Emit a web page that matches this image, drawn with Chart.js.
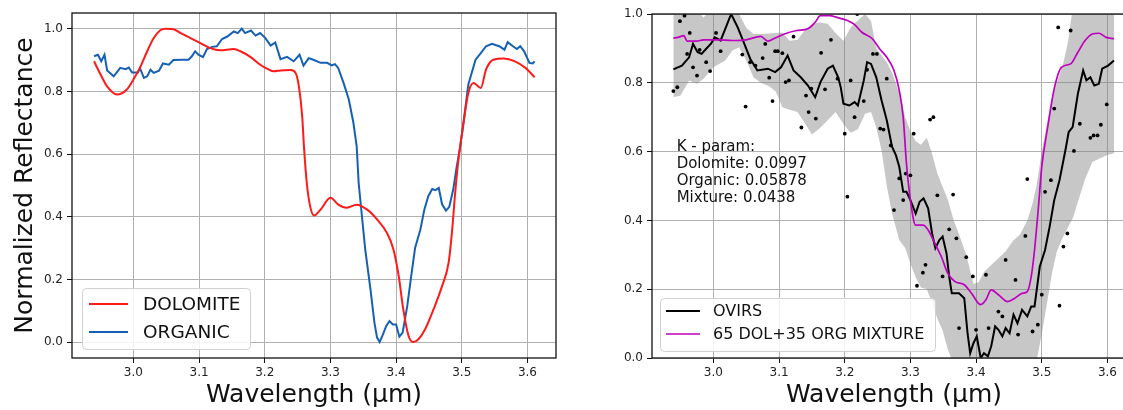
<!doctype html>
<html>
<head>
<meta charset="utf-8">
<title>Reflectance spectra</title>
<script src="https://cdn.jsdelivr.net/npm/chart.js@4.4.1/dist/chart.umd.min.js"></script>
<style>
  html, body { margin: 0; padding: 0; background: #fff; overflow: hidden; }
  #wrap { position: relative; width: 1123px; height: 410px; overflow: hidden; }
  canvas { position: absolute; top: 0; }
</style>
</head>
<body>
<div id="wrap">
  <canvas id="left" width="570" height="410" style="left:0"></canvas>
  <canvas id="right" width="590" height="410" style="left:560px"></canvas>
</div>
<script>
// ---- data ----
var xTicks = [3.0, 3.1, 3.2, 3.3, 3.4, 3.5, 3.6];
var leftYTicks = [0.0, 0.2, 0.4, 0.6, 0.8, 1.0];
var rightYTicks = [0.0, 0.2, 0.4, 0.6, 0.8, 1.0];

var dolomiteX = [2.940, 2.950, 2.960, 2.975, 2.990, 3.000, 3.011, 3.021, 3.031, 3.041, 3.049, 3.061, 3.072, 3.087, 3.102, 3.117, 3.132, 3.153, 3.163, 3.178, 3.193, 3.204, 3.214, 3.224, 3.239, 3.247, 3.252, 3.257, 3.260, 3.264, 3.269, 3.275, 3.285, 3.300, 3.312, 3.325, 3.340, 3.356, 3.371, 3.386, 3.396, 3.404, 3.411, 3.419, 3.426, 3.434, 3.444, 3.457, 3.470, 3.480, 3.485, 3.490, 3.495, 3.502, 3.510, 3.518, 3.529, 3.537, 3.548, 3.564, 3.581, 3.597, 3.611];
var dolomiteY = [0.896, 0.854, 0.816, 0.790, 0.806, 0.838, 0.880, 0.928, 0.970, 0.995, 1.0, 0.998, 0.986, 0.970, 0.954, 0.938, 0.931, 0.935, 0.928, 0.910, 0.885, 0.872, 0.864, 0.867, 0.868, 0.859, 0.816, 0.721, 0.615, 0.508, 0.435, 0.404, 0.423, 0.461, 0.439, 0.429, 0.439, 0.423, 0.392, 0.349, 0.296, 0.211, 0.105, 0.020, 0.001, 0.010, 0.041, 0.105, 0.179, 0.254, 0.349, 0.477, 0.583, 0.689, 0.795, 0.827, 0.811, 0.870, 0.901, 0.905, 0.896, 0.875, 0.845];

var organicX = [2.940, 2.946, 2.951, 2.956, 2.960, 2.970, 2.980, 2.988, 2.993, 2.998, 3.007, 3.010, 3.016, 3.021, 3.026, 3.031, 3.039, 3.045, 3.054, 3.061, 3.074, 3.084, 3.089, 3.094, 3.099, 3.106, 3.112, 3.120, 3.127, 3.135, 3.143, 3.153, 3.159, 3.165, 3.170, 3.179, 3.186, 3.193, 3.201, 3.209, 3.216, 3.224, 3.234, 3.244, 3.253, 3.259, 3.267, 3.274, 3.285, 3.295, 3.302, 3.307, 3.312, 3.320, 3.328, 3.335, 3.340, 3.343, 3.348, 3.353, 3.361, 3.367, 3.371, 3.375, 3.380, 3.385, 3.390, 3.395, 3.400, 3.405, 3.410, 3.417, 3.423, 3.429, 3.437, 3.443, 3.449, 3.455, 3.460, 3.465, 3.470, 3.476, 3.481, 3.487, 3.492, 3.497, 3.502, 3.510, 3.521, 3.529, 3.537, 3.546, 3.557, 3.565, 3.570, 3.578, 3.584, 3.589, 3.595, 3.603, 3.608, 3.611];
var organicY = [0.912, 0.917, 0.896, 0.917, 0.867, 0.848, 0.875, 0.871, 0.876, 0.860, 0.860, 0.874, 0.843, 0.848, 0.869, 0.859, 0.866, 0.889, 0.885, 0.900, 0.901, 0.901, 0.912, 0.928, 0.917, 0.909, 0.935, 0.942, 0.944, 0.967, 0.975, 0.991, 0.986, 1.0, 0.986, 0.994, 0.978, 0.986, 0.970, 0.946, 0.956, 0.903, 0.910, 0.896, 0.917, 0.882, 0.906, 0.901, 0.891, 0.891, 0.883, 0.887, 0.874, 0.827, 0.774, 0.700, 0.625, 0.508, 0.402, 0.296, 0.169, 0.063, 0.015, 0.001, 0.025, 0.052, 0.068, 0.057, 0.057, 0.018, 0.031, 0.116, 0.211, 0.302, 0.360, 0.423, 0.466, 0.489, 0.485, 0.492, 0.440, 0.420, 0.432, 0.487, 0.556, 0.615, 0.690, 0.822, 0.901, 0.922, 0.944, 0.952, 0.944, 0.933, 0.957, 0.944, 0.935, 0.944, 0.928, 0.891, 0.889, 0.896];

var ovirsX = [2.939, 2.952, 2.963, 2.969, 2.976, 2.982, 2.989, 2.996, 3.002, 3.011, 3.019, 3.027, 3.037, 3.045, 3.056, 3.067, 3.083, 3.094, 3.103, 3.113, 3.122, 3.133, 3.144, 3.155, 3.163, 3.174, 3.182, 3.190, 3.194, 3.198, 3.207, 3.215, 3.220, 3.229, 3.234, 3.240, 3.248, 3.256, 3.264, 3.272, 3.278, 3.283, 3.289, 3.294, 3.300, 3.308, 3.314, 3.320, 3.327, 3.333, 3.338, 3.344, 3.349, 3.355, 3.359, 3.363, 3.367, 3.374, 3.382, 3.387, 3.391, 3.396, 3.401, 3.407, 3.412, 3.418, 3.423, 3.429, 3.434, 3.440, 3.445, 3.451, 3.457, 3.463, 3.470, 3.478, 3.484, 3.489, 3.497, 3.505, 3.512, 3.519, 3.527, 3.536, 3.541, 3.547, 3.555, 3.563, 3.568, 3.574, 3.580, 3.587, 3.592, 3.601, 3.610];
var ovirsY = [0.839, 0.850, 0.874, 0.913, 0.889, 0.884, 0.899, 0.913, 0.932, 0.923, 0.961, 1.0, 0.961, 0.923, 0.870, 0.836, 0.841, 0.831, 0.845, 0.879, 0.836, 0.816, 0.792, 0.758, 0.802, 0.841, 0.850, 0.816, 0.786, 0.739, 0.734, 0.744, 0.734, 0.807, 0.860, 0.855, 0.816, 0.749, 0.691, 0.614, 0.589, 0.556, 0.483, 0.483, 0.459, 0.420, 0.454, 0.464, 0.435, 0.362, 0.319, 0.343, 0.353, 0.304, 0.237, 0.188, 0.188, 0.188, 0.174, 0.072, 0.014, 0.043, 0.063, 0.0, 0.014, 0.005, 0.034, 0.092, 0.082, 0.063, 0.087, 0.072, 0.126, 0.101, 0.140, 0.121, 0.150, 0.150, 0.266, 0.314, 0.382, 0.459, 0.517, 0.604, 0.657, 0.671, 0.768, 0.836, 0.807, 0.816, 0.792, 0.797, 0.841, 0.850, 0.865];

var mixX = [2.939, 2.946, 2.955, 2.960, 2.974, 2.985, 3.007, 3.029, 3.050, 3.072, 3.083, 3.094, 3.108, 3.127, 3.144, 3.155, 3.163, 3.177, 3.188, 3.204, 3.215, 3.226, 3.242, 3.253, 3.264, 3.275, 3.283, 3.289, 3.294, 3.300, 3.308, 3.319, 3.327, 3.336, 3.347, 3.357, 3.368, 3.382, 3.393, 3.407, 3.415, 3.423, 3.434, 3.448, 3.459, 3.470, 3.478, 3.484, 3.489, 3.495, 3.500, 3.509, 3.519, 3.530, 3.544, 3.555, 3.566, 3.577, 3.587, 3.598, 3.610];
var mixY = [0.930, 0.932, 0.937, 0.921, 0.921, 0.925, 0.925, 0.923, 0.925, 0.935, 0.921, 0.930, 0.942, 0.952, 0.957, 0.976, 0.995, 0.995, 0.990, 0.981, 0.969, 0.947, 0.928, 0.899, 0.874, 0.836, 0.778, 0.700, 0.565, 0.459, 0.386, 0.386, 0.372, 0.338, 0.295, 0.246, 0.222, 0.213, 0.188, 0.155, 0.169, 0.198, 0.184, 0.164, 0.174, 0.188, 0.193, 0.237, 0.314, 0.440, 0.556, 0.671, 0.783, 0.845, 0.855, 0.889, 0.923, 0.942, 0.944, 0.932, 0.928];

var dotX = [2.939, 2.945, 2.949, 2.956, 2.960, 2.964, 2.969, 2.975, 2.979, 2.989, 2.995, 3.004, 3.011, 3.044, 3.049, 3.056, 3.064, 3.075, 3.079, 3.085, 3.090, 3.094, 3.098, 3.105, 3.110, 3.115, 3.122, 3.134, 3.141, 3.145, 3.149, 3.156, 3.164, 3.170, 3.179, 3.189, 3.200, 3.204, 3.209, 3.215, 3.219, 3.229, 3.234, 3.243, 3.249, 3.254, 3.259, 3.264, 3.270, 3.275, 3.283, 3.289, 3.293, 3.300, 3.305, 3.310, 3.319, 3.323, 3.330, 3.335, 3.341, 3.349, 3.359, 3.365, 3.370, 3.374, 3.385, 3.395, 3.400, 3.415, 3.419, 3.434, 3.440, 3.445, 3.460, 3.464, 3.475, 3.478, 3.486, 3.494, 3.500, 3.505, 3.514, 3.519, 3.525, 3.527, 3.533, 3.539, 3.544, 3.549, 3.558, 3.574, 3.579, 3.585, 3.590, 3.599];
var dotY = [0.776, 0.787, 0.979, 0.995, 0.884, 0.945, 0.845, 0.821, 0.896, 0.860, 0.834, 0.945, 0.892, 0.882, 0.731, 0.860, 0.850, 0.872, 0.913, 0.815, 0.747, 0.892, 0.892, 0.886, 0.802, 0.807, 0.934, 0.670, 0.763, 0.715, 0.783, 0.696, 0.887, 0.781, 0.925, 0.812, 0.652, 0.469, 0.807, 0.700, 1.0, 0.747, 0.838, 0.884, 0.884, 0.667, 0.664, 0.812, 0.618, 0.430, 0.522, 0.459, 0.536, 0.531, 0.652, 0.210, 0.248, 0.271, 0.693, 0.700, 0.473, 0.237, 0.374, 0.475, 0.348, 0.087, 0.293, 0.237, 0.082, 0.242, 0.087, 0.135, 0.121, 0.285, 0.227, 0.068, 0.355, 0.520, 0.077, 0.097, 0.184, 0.483, 0.517, 0.725, 0.961, 0.152, 0.324, 0.362, 0.952, 0.602, 0.681, 0.640, 0.647, 0.647, 0.678, 0.737];

// uncertainty band of the OVIRS spectrum (upper / lower edge)
var bandX = [2.939, 2.950, 2.963, 2.975, 2.985, 3.000, 3.018, 3.029, 3.039, 3.050, 3.061, 3.072, 3.085, 3.095, 3.105, 3.116, 3.128, 3.140, 3.150, 3.162, 3.174, 3.186, 3.198, 3.209, 3.220, 3.231, 3.240, 3.248, 3.256, 3.264, 3.272, 3.283, 3.292, 3.300, 3.308, 3.316, 3.325, 3.333, 3.341, 3.349, 3.357, 3.366, 3.374, 3.385, 3.396, 3.404, 3.412, 3.423, 3.434, 3.445, 3.456, 3.467, 3.478, 3.486, 3.492, 3.500, 3.508, 3.516, 3.523, 3.532, 3.540, 3.548, 3.556, 3.566, 3.577, 3.588, 3.600, 3.610];
var bandHigh = [1.03, 1.03, 1.03, 1.01, 0.99, 1.02, 1.03, 1.03, 1.0, 0.96, 0.942, 0.942, 0.943, 0.945, 0.946, 0.922, 0.925, 0.955, 0.971, 0.975, 0.972, 0.945, 0.922, 0.961, 0.981, 1.0, 0.98, 0.90, 0.88, 0.86, 0.83, 0.77, 0.70, 0.66, 0.63, 0.62, 0.64, 0.594, 0.536, 0.498, 0.46, 0.40, 0.36, 0.30, 0.215, 0.22, 0.25, 0.27, 0.29, 0.31, 0.34, 0.36, 0.40, 0.45, 0.50, 0.60, 0.68, 0.76, 0.80, 0.85, 0.92, 1.03, 1.05, 1.05, 1.05, 1.05, 1.05, 1.05];
var bandLow = [0.758, 0.763, 0.807, 0.797, 0.812, 0.845, 0.865, 0.894, 0.903, 0.865, 0.816, 0.80, 0.79, 0.775, 0.729, 0.722, 0.715, 0.68, 0.65, 0.668, 0.691, 0.715, 0.68, 0.655, 0.665, 0.71, 0.715, 0.671, 0.604, 0.50, 0.42, 0.343, 0.32, 0.275, 0.235, 0.205, 0.20, 0.16, 0.115, 0.08, 0.025, -0.02, -0.05, -0.05, -0.05, -0.05, -0.05, -0.05, -0.05, -0.05, -0.05, -0.05, -0.05, -0.05, -0.01, 0.07, 0.16, 0.25, 0.31, 0.35, 0.38, 0.41, 0.46, 0.52, 0.57, 0.58, 0.59, 0.595];

var kParamLines = ['K - param:', 'Dolomite: 0.0997', 'Organic: 0.05878', 'Mixture: 0.0438'];

// ---- helpers ----
var FONT = '"DejaVu Sans", sans-serif';
Chart.defaults.font.family = FONT;
var xMin = 2.9065, xMax = 3.6435;

function pts(xs, ys) {
  return xs.map(function(x, i) { return { x: x, y: ys[i] }; });
}

var framePlugin = {
  id: 'frame',
  afterDatasetsDraw: function(chart) {
    var ctx = chart.ctx, a = chart.chartArea;
    ctx.save();
    ctx.strokeStyle = '#111';
    ctx.lineWidth = 1.3;
    ctx.strokeRect(a.left, a.top, a.right - a.left, a.bottom - a.top);
    ctx.restore();
  }
};

var boxLegend = {
  id: 'boxLegend',
  afterDraw: function(chart, args, o) {
    var ctx = chart.ctx;
    var items = chart.data.datasets.filter(function(d) { return d.inLegend; });
    items.sort(function(a, b) { return a.legendPos - b.legendPos; });
    ctx.save();
    ctx.beginPath();
    ctx.roundRect(o.x + 0.5, o.y + 0.5, o.w, o.h, 4);
    ctx.fillStyle = 'rgba(255,255,255,0.85)';
    ctx.fill();
    ctx.strokeStyle = '#d0d0d0';
    ctx.lineWidth = 1;
    ctx.stroke();
    ctx.font = o.fontSize + 'px ' + FONT;
    ctx.textBaseline = 'middle';
    items.forEach(function(d, i) {
      var yy = o.y + o.firstRow + i * o.rowH;
      ctx.strokeStyle = d.borderColor;
      ctx.lineWidth = d.borderWidth;
      ctx.beginPath();
      ctx.moveTo(o.x + o.lineX0, yy);
      ctx.lineTo(o.x + o.lineX1, yy);
      ctx.stroke();
      ctx.fillStyle = '#111';
      ctx.fillText(d.label, o.x + o.textX, yy + 1);
    });
    ctx.restore();
  }
};

var notePlugin = {
  id: 'note',
  afterDatasetsDraw: function(chart, args, o) {
    if (!o.lines) return;
    var ctx = chart.ctx;
    var px = chart.scales.x.getPixelForValue(o.x);
    var py = chart.scales.y.getPixelForValue(o.y);
    ctx.save();
    ctx.font = o.fontSize + 'px ' + FONT;
    ctx.fillStyle = '#111';
    ctx.textBaseline = 'middle';
    o.lines.forEach(function(t, i) { ctx.fillText(t, px, py + i * o.lineH); });
    ctx.restore();
  }
};

function xScale() {
  return {
    type: 'linear', min: xMin, max: xMax,
    afterBuildTicks: function(s) { s.ticks = xTicks.map(function(v) { return { value: v }; }); },
    afterFit: function(s) { s.height = 52; },
    grid: { color: '#b0b0b0', lineWidth: 1, tickLength: 5, tickColor: '#111' },
    border: { display: false },
    ticks: { font: { size: 12 }, color: '#222', padding: 3, maxRotation: 0,
             callback: function(v) { return v.toFixed(1); } },
    title: { display: true, text: 'Wavelength (μm)', font: { size: 25 }, color: '#111', padding: 0 }
  };
}

function yScale(min, max, ticks, width, title) {
  return {
    type: 'linear', min: min, max: max,
    afterBuildTicks: function(s) { s.ticks = ticks.map(function(v) { return { value: v }; }); },
    afterFit: function(s) { s.width = width; },
    grid: { color: '#b0b0b0', lineWidth: 1, tickLength: 5, tickColor: '#111' },
    border: { display: false },
    ticks: { font: { size: 12 }, color: '#222', padding: 4,
             callback: function(v) { return v.toFixed(1); } },
    title: { display: !!title, text: title || '', font: { size: 25 }, color: '#111',
             padding: { top: 10, bottom: 0 } }
  };
}

// ---- left panel ----
new Chart(document.getElementById('left').getContext('2d'), {
  type: 'line',
  data: {
    datasets: [
      { label: 'DOLOMITE', inLegend: true, legendPos: 0, data: pts(dolomiteX, dolomiteY),
        borderColor: '#ff1a1a', borderWidth: 2, pointRadius: 0, cubicInterpolationMode: 'monotone' },
      { label: 'ORGANIC', inLegend: true, legendPos: 1, data: pts(organicX, organicY),
        borderColor: '#1660b4', borderWidth: 2, pointRadius: 0, tension: 0 }
    ]
  },
  options: {
    responsive: false, animation: false, devicePixelRatio: 1,
    layout: { padding: { top: 13, right: 14, left: 0, bottom: 0 } },
    scales: { x: xScale(), y: yScale(-0.05, 1.05, leftYTicks, 72, 'Normalized Reflectance') },
    plugins: {
      legend: { display: false }, tooltip: { enabled: false },
      boxLegend: { x: 82, y: 288, w: 168, h: 61, firstRow: 16, rowH: 28,
                   lineX0: 7, lineX1: 46, textX: 61, fontSize: 18.5 },
      note: {}
    }
  },
  plugins: [framePlugin, boxLegend, notePlugin]
});

// ---- right panel ----
new Chart(document.getElementById('right').getContext('2d'), {
  type: 'line',
  data: {
    datasets: [
      { label: '65 DOL+35 ORG MIXTURE', inLegend: true, legendPos: 1, data: pts(mixX, mixY), order: 0,
        borderColor: '#bf00bf', borderWidth: 1.7, pointRadius: 0, cubicInterpolationMode: 'monotone' },
      { label: 'OVIRS', inLegend: true, legendPos: 0, data: pts(ovirsX, ovirsY), order: 1,
        borderColor: '#000000', borderWidth: 2, pointRadius: 0, tension: 0 },
      { label: 'OVIRS points', data: pts(dotX, dotY), order: 2, showLine: false,
        pointRadius: 1.9, pointBackgroundColor: '#000', pointBorderWidth: 0, borderColor: '#000' },
      { label: 'band high', data: pts(bandX, bandHigh), order: 3, fill: '+1',
        backgroundColor: 'rgba(128,128,128,0.44)', borderColor: 'rgba(0,0,0,0)', borderWidth: 0.01, pointRadius: 0 },
      { label: 'band low', data: pts(bandX, bandLow), order: 4, fill: false,
        borderColor: 'rgba(0,0,0,0)', borderWidth: 0.01, pointRadius: 0 }
    ]
  },
  options: {
    responsive: false, animation: false, devicePixelRatio: 1,
    layout: { padding: { top: 14, right: 14, left: 0, bottom: 0 } },
    scales: { x: xScale(), y: yScale(0, 1.0, rightYTicks, 92, '') },
    plugins: {
      legend: { display: false }, tooltip: { enabled: false },
      boxLegend: { x: 100, y: 298, w: 275, h: 53, firstRow: 13, rowH: 23,
                   lineX0: 6, lineX1: 40, textX: 53, fontSize: 16 },
      note: { x: 2.944, y: 0.613, lines: kParamLines, fontSize: 15, lineH: 17 }
    }
  },
  plugins: [framePlugin, boxLegend, notePlugin]
});
</script>
</body>
</html>
